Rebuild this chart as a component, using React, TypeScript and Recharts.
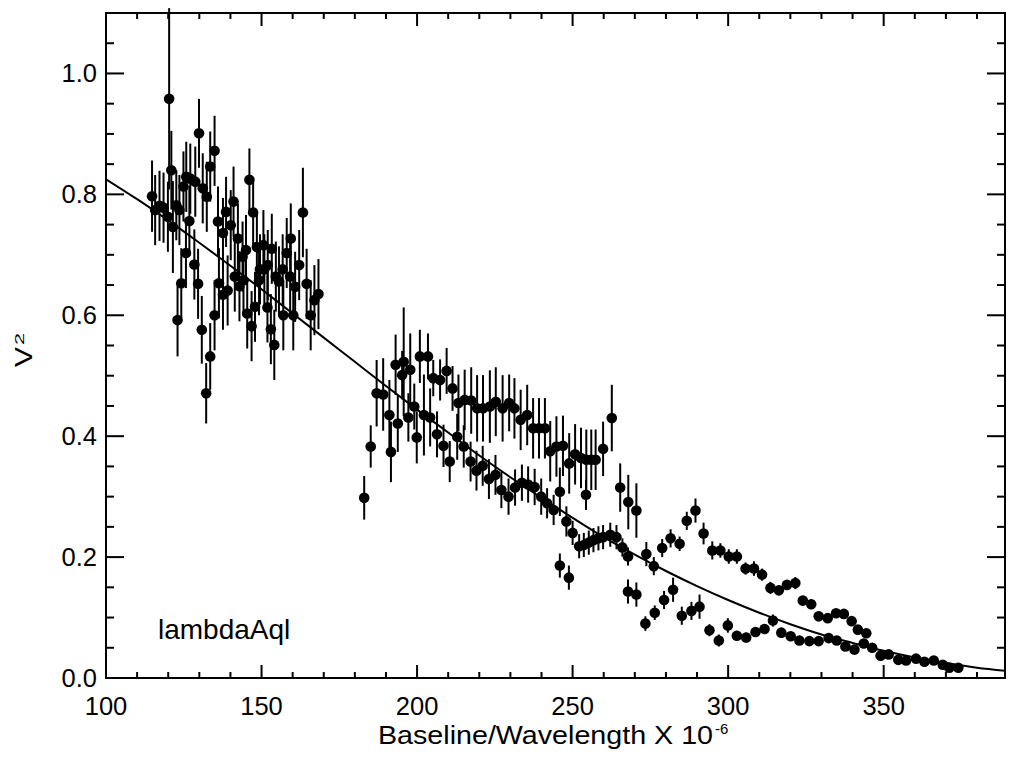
import { ComposedChart, Scatter, Line, XAxis, YAxis, ErrorBar } from "recharts";

const FONT = "'Liberation Sans', Arial, Helvetica, sans-serif";

const obsBaseline = [
  114.8, 115.8, 117.2, 118.5, 119.9, 120.3, 121.0, 121.5, 122.6, 123.0, 123.6, 124.2, 124.9, 125.7, 125.8,
  126.8, 127.1, 128.4, 128.7, 129.6, 129.9, 130.8, 131.1, 132.2, 132.4, 133.5, 133.5, 134.9, 134.9, 136.0,
  136.3, 137.6, 137.6, 138.6, 139.1, 140.1, 141.0, 141.4, 142.4, 142.9, 143.9, 144.2, 145.0, 145.4, 146.1,
  146.8, 147.3, 147.9, 148.5, 149.2, 149.5, 150.6, 150.9, 151.9, 152.0, 153.0, 153.3, 154.1, 154.6, 155.6,
  156.8, 157.0, 158.1, 159.2, 159.4, 160.2, 160.8, 162.1, 163.3, 164.5, 165.8, 167.0, 168.3,
  183.0, 185.1, 187.0, 189.1, 191.1, 191.6, 193.1, 193.8, 195.2, 195.7, 197.2, 197.8, 199.1, 199.9, 200.9,
  202.2, 203.5, 204.2, 205.2, 206.4, 207.4, 208.5, 209.5, 210.5, 211.4, 212.9, 213.3, 215.0, 215.3, 217.2,
  217.4, 219.1, 219.3, 221.1, 221.2, 223.1, 223.4, 225.2, 225.3, 227.1, 227.5, 229.4, 229.6, 231.3, 231.5,
  233.3, 233.7, 235.4, 235.7, 237.3, 237.8, 239.2, 239.9, 241.1, 241.8, 242.8, 243.9, 244.8, 245.9, 245.9,
  246.9, 248.0, 248.8, 248.9, 250.0, 250.8, 252.1, 252.7, 253.6, 254.3, 254.4, 255.2, 256.0, 256.7, 257.4,
  258.3, 259.8, 259.8, 262.1, 262.6, 264.1, 265.3, 266.0, 267.8, 267.9, 267.8, 270.5, 270.5,
  273.4, 273.7, 276.1, 276.4, 278.8, 279.4, 281.5, 282.3, 284.4, 285.1, 286.7, 288.2, 289.5, 290.8, 292.1,
  294.0, 294.9, 297.0, 297.5, 299.9, 300.2, 302.8, 302.8, 305.6, 305.8, 308.3, 308.8, 310.9, 311.7, 313.6,
  314.4, 316.3, 317.1, 318.9, 320.1, 321.6, 322.9, 324.0, 326.1, 326.7, 329.1, 329.1, 332.0, 332.3, 334.7,
  334.9, 337.2, 337.7, 339.7, 340.6, 341.7, 343.6, 344.4, 346.3, 349.0, 351.6, 354.7, 357.2, 360.4, 363.1,
  366.1, 369.0, 371.1, 374.0,
];

const obsV2 = [
  0.797, 0.774, 0.781, 0.778, 0.763, 0.958, 0.84, 0.746, 0.782, 0.592, 0.774, 0.653, 0.813, 0.703, 0.829,
  0.756, 0.826, 0.684, 0.821, 0.652, 0.901, 0.576, 0.81, 0.471, 0.796, 0.532, 0.846, 0.872, 0.6, 0.755,
  0.653, 0.736, 0.634, 0.771, 0.641, 0.749, 0.788, 0.664, 0.727, 0.648, 0.697, 0.658, 0.708, 0.603, 0.824,
  0.582, 0.77, 0.614, 0.713, 0.658, 0.676, 0.716, 0.676, 0.613, 0.683, 0.577, 0.71, 0.551, 0.664, 0.656,
  0.676, 0.6, 0.703, 0.664, 0.727, 0.6, 0.647, 0.683, 0.77, 0.652, 0.6, 0.625, 0.635,
  0.298, 0.383, 0.471, 0.469, 0.435, 0.374, 0.518, 0.421, 0.501, 0.523, 0.431, 0.51, 0.449, 0.398, 0.532,
  0.435, 0.532, 0.431, 0.496, 0.403, 0.493, 0.384, 0.508, 0.358, 0.479, 0.399, 0.455, 0.383, 0.46, 0.358,
  0.459, 0.343, 0.446, 0.351, 0.446, 0.329, 0.449, 0.336, 0.457, 0.311, 0.446, 0.3, 0.455, 0.446, 0.315,
  0.427, 0.323, 0.435, 0.32, 0.413, 0.316, 0.413, 0.3, 0.413, 0.289, 0.375, 0.278, 0.383, 0.308, 0.186,
  0.384, 0.259, 0.166, 0.355, 0.24, 0.37, 0.218, 0.364, 0.22, 0.303, 0.361, 0.224, 0.361, 0.228, 0.361,
  0.231, 0.379, 0.233, 0.237, 0.43, 0.233, 0.315, 0.216, 0.201, 0.291, 0.143, 0.277, 0.138,
  0.09, 0.205, 0.185, 0.108, 0.215, 0.129, 0.231, 0.146, 0.222, 0.103, 0.26, 0.111, 0.277, 0.118, 0.239,
  0.079, 0.211, 0.062, 0.211, 0.087, 0.201, 0.07, 0.201, 0.181, 0.067, 0.181, 0.076, 0.171, 0.081, 0.149,
  0.095, 0.145, 0.075, 0.154, 0.069, 0.157, 0.062, 0.128, 0.061, 0.122, 0.061, 0.102, 0.099, 0.066, 0.107,
  0.062, 0.106, 0.052, 0.094, 0.047, 0.08, 0.057, 0.074, 0.05, 0.037, 0.039, 0.03, 0.029, 0.032, 0.027,
  0.029, 0.022, 0.017, 0.017,
];

const obsErr = [
  0.059, 0.058, 0.058, 0.058, 0.058, 0.15, 0.065, 0.076, 0.058, 0.06, 0.058, 0.058, 0.058, 0.058, 0.058,
  0.058, 0.058, 0.058, 0.058, 0.058, 0.057, 0.056, 0.058, 0.05, 0.058, 0.055, 0.058, 0.058, 0.058, 0.058,
  0.058, 0.058, 0.058, 0.058, 0.058, 0.058, 0.058, 0.058, 0.058, 0.058, 0.058, 0.058, 0.058, 0.058, 0.052,
  0.058, 0.058, 0.058, 0.058, 0.058, 0.058, 0.058, 0.058, 0.058, 0.058, 0.058, 0.058, 0.058, 0.058, 0.058,
  0.058, 0.058, 0.058, 0.058, 0.058, 0.058, 0.058, 0.058, 0.074, 0.058, 0.058, 0.058, 0.058,
  0.036, 0.035, 0.055, 0.06, 0.058, 0.05, 0.05, 0.047, 0.04, 0.09, 0.04, 0.06, 0.038, 0.043, 0.044,
  0.067, 0.038, 0.048, 0.03, 0.038, 0.034, 0.035, 0.038, 0.034, 0.037, 0.038, 0.047, 0.035, 0.05, 0.033,
  0.055, 0.033, 0.055, 0.033, 0.055, 0.033, 0.06, 0.033, 0.057, 0.03, 0.055, 0.03, 0.047, 0.05, 0.03,
  0.05, 0.03, 0.05, 0.03, 0.05, 0.03, 0.05, 0.03, 0.05, 0.025, 0.05, 0.025, 0.05, 0.04, 0.02,
  0.05, 0.025, 0.02, 0.05, 0.02, 0.05, 0.02, 0.05, 0.02, 0.025, 0.05, 0.02, 0.05, 0.02, 0.05,
  0.02, 0.045, 0.02, 0.02, 0.055, 0.02, 0.04, 0.015, 0.015, 0.045, 0.02, 0.045, 0.02,
  0.012, 0.02, 0.015, 0.012, 0.015, 0.015, 0.015, 0.02, 0.012, 0.015, 0.015, 0.015, 0.02, 0.02, 0.018,
  0.01, 0.015, 0.01, 0.012, 0.012, 0.012, 0.008, 0.012, 0.01, 0.008, 0.012, 0.008, 0.01, 0.008, 0.01,
  0.01, 0.008, 0.008, 0.008, 0.008, 0.01, 0.006, 0.008, 0.006, 0.008, 0.006, 0.006, 0.006, 0.006, 0.006,
  0.006, 0.006, 0.006, 0.006, 0.006, 0.006, 0.006, 0.006, 0.006, 0.005, 0.005, 0.005, 0.005, 0.005, 0.005,
  0.005, 0.005, 0.005, 0.005,
];

// fitted curve, every 10 units
const modelBaseline = [
  100, 110, 120, 130, 140, 150, 160, 170, 180, 190, 200, 210, 220, 230, 240,
  250, 260, 270, 280, 290, 300, 310, 320, 330, 340, 350, 360, 370, 380, 389,
];
const modelV2 = [
  0.825, 0.792, 0.757, 0.72, 0.682, 0.643, 0.603, 0.563, 0.523, 0.483, 0.444, 0.406, 0.368, 0.332, 0.298,
  0.265, 0.233, 0.204, 0.177, 0.152, 0.129, 0.108, 0.089, 0.072, 0.058, 0.045, 0.034, 0.025, 0.017, 0.012,
];

const xTicks = [
  100, 110, 120, 130, 140, 150, 160, 170, 180, 190, 200, 210, 220, 230, 240,
  250, 260, 270, 280, 290, 300, 310, 320, 330, 340, 350, 360, 370, 380,
];
const xMajorTicks = [100, 150, 200, 250, 300, 350];
const yTicks = [
  0, 0.05, 0.1, 0.15, 0.2, 0.25, 0.3, 0.35, 0.4, 0.45, 0.5, 0.55, 0.6, 0.65, 0.7,
  0.75, 0.8, 0.85, 0.9, 0.95, 1.0, 1.05,
];
const yMajorTicks = [0, 0.2, 0.4, 0.6, 0.8, 1.0];

const obsData = obsBaseline.map((x, i) => ({ x, v2: obsV2[i], err: obsErr[i] }));
const modelData = modelBaseline.map((x, i) => ({ x, v2: modelV2[i] }));

// plot box in pixels (from margins + axis sizes below)
const W = 1009;
const H = 757;
const M = { top: 13, right: 4, left: 0, bottom: 0 };
const Y_AXIS_W = 106;
const X_AXIS_H = 79;
const BOX = { left: Y_AXIS_W, right: W - M.right, top: M.top, bottom: H - X_AXIS_H };

const isYMajor = (v: number) => yMajorTicks.some((m) => Math.abs(m - v) < 1e-6);

// IDL-style ticks: pointing inwards, mirrored on the opposite side
function XTick({ x, payload }: any) {
  const major = xMajorTicks.includes(payload.value);
  const len = major ? 13 : 6;
  return (
    <g stroke="#000" strokeWidth={2}>
      <line x1={x} x2={x} y1={BOX.bottom} y2={BOX.bottom - len} />
      <line x1={x} x2={x} y1={BOX.top} y2={BOX.top + len} />
      {major && (
        <text
          x={x}
          y={BOX.bottom + 37}
          textAnchor="middle"
          fontFamily={FONT}
          fontSize={25.5}
          fill="#000"
          stroke="none"
        >
          {payload.value}
        </text>
      )}
    </g>
  );
}

function YTick({ y, payload }: any) {
  const major = isYMajor(payload.value);
  const len = major ? 18 : 8;
  return (
    <g stroke="#000" strokeWidth={2}>
      <line x1={BOX.left} x2={BOX.left + len} y1={y} y2={y} />
      <line x1={BOX.right} x2={BOX.right - len} y1={y} y2={y} />
      {major && (
        <text
          x={BOX.left - 9}
          y={y + 9}
          textAnchor="end"
          fontFamily={FONT}
          fontSize={25.5}
          fill="#000"
          stroke="none"
        >
          {payload.value.toFixed(1)}
        </text>
      )}
    </g>
  );
}

function Dot({ cx, cy }: any) {
  return <circle cx={cx} cy={cy} r={5.3} fill="#000" />;
}

export default function App() {
  return (
    <div style={{ position: "absolute", left: 0, top: 0, background: "#fff" }}>
      <ComposedChart width={W} height={H} margin={M}>
        <XAxis
          dataKey="x"
          type="number"
          domain={[100, 389]}
          ticks={xTicks}
          interval={0}
          tick={<XTick />}
          tickLine={false}
          axisLine={false}
          height={X_AXIS_H}
          allowDataOverflow
        />
        <YAxis
          type="number"
          domain={[0, 1.1]}
          ticks={yTicks}
          interval={0}
          tick={<YTick />}
          tickLine={false}
          axisLine={false}
          width={Y_AXIS_W}
          allowDataOverflow
        />
        <Line
          data={modelData}
          dataKey="v2"
          type="monotone"
          stroke="#000"
          strokeWidth={2}
          dot={false}
          isAnimationActive={false}
        />
        <Scatter data={obsData} dataKey="v2" shape={<Dot />} isAnimationActive={false}>
          <ErrorBar dataKey="err" direction="y" width={0} stroke="#000" strokeWidth={2} />
        </Scatter>
        <rect
          x={BOX.left}
          y={BOX.top}
          width={BOX.right - BOX.left}
          height={BOX.bottom - BOX.top}
          fill="none"
          stroke="#000"
          strokeWidth={2}
        />
        <text x={158} y={638.5} fontFamily={FONT} fontSize={28} fill="#000">
          lambdaAql
        </text>
        <text
          x={378}
          y={744}
          fontFamily={FONT}
          fontSize={25.5}
          fill="#000"
          textLength={335}
          lengthAdjust="spacingAndGlyphs"
        >
          Baseline/Wavelength X 10
        </text>
        <text x={715} y={734} fontFamily={FONT} fontSize={15} fill="#000">
          -6
        </text>
        <text
          transform="translate(31.5,367) rotate(-90)"
          fontFamily={FONT}
          fontSize={23}
          fill="#000"
          textLength={20}
          lengthAdjust="spacingAndGlyphs"
        >
          V
        </text>
        <text
          transform="translate(23.5,345) rotate(-90)"
          fontFamily={FONT}
          fontSize={12}
          fill="#000"
          textLength={12}
          lengthAdjust="spacingAndGlyphs"
        >
          2
        </text>
      </ComposedChart>
    </div>
  );
}
